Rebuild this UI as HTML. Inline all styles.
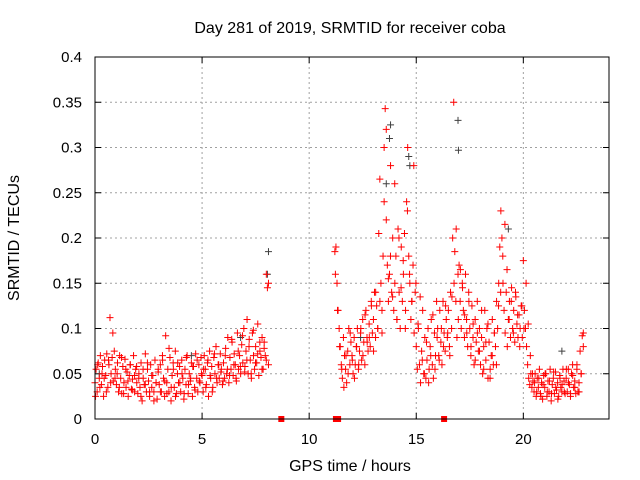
<!DOCTYPE html>
<html><head><meta charset="utf-8"><style>
body{margin:0;background:#fff}
svg{display:block;font-family:"Liberation Sans",sans-serif}
</style></head><body>
<svg id="chart" width="640" height="480">
<text x="350" y="33" text-anchor="middle" font-size="16">Day 281 of 2019, SRMTID for receiver coba</text>
<text x="350" y="471" text-anchor="middle" font-size="16">GPS time / hours</text>
<text x="19" y="238" text-anchor="middle" font-size="16" transform="rotate(-90 19 238)">SRMTID / TECUs</text>
<g id="grid"></g><g id="ticks"></g><g id="pts"></g>
<rect x="95" y="57" width="514" height="362" fill="none" stroke="#000" stroke-width="1"/>
</svg>
<script>
const xTicks=[0,5,10,15,20];
const yTicks=[0,0.05,0.1,0.15,0.2,0.25,0.3,0.35,0.4];
const yTickLabels=["0","0.05","0.1","0.15","0.2","0.25","0.3","0.35","0.4"];
const segA=[0,8.1];
const segB=[11.2,22.8];
const redA1=[40,55,30,62,45,70,38,58,25,65,48,72,35,60,112,50,68,42,75,55,38,62,30,70,45,28,58,40,66,35,52,25,48,60,33,44,70,30,55,40,28,50,35,62,20,45,38,72,30,55,42,25,60,35,48,30,65,40,22,52,38,60,30,70,45,25,92,40,55,30,68,20,48,62,35,75,28,50,40,58,30,65,45,22,55,38,70,28,50,42,62,25,58,35,72,45,30,60,40,68,48,30,70,55,38,62,25,75,45,58,35,68,50,80,40,60,45,72,55,38,62,45,78,50,90,40,68,55,85,48,72,60,42,95,55,70,50,82,62,100,58,75,110,50,88,65,45,95,70,55,80,62,105,48,75,68,90,55,85,70,160,145,60];
const redA2=[25,60,35,50,45,30,65,40,95,45,50,35,68,28,55,42,60,32,48,58,45,25,55,38,62,30,48,20,40,55,30,65,42,28,78,35,55,25,62,40,50,28,68,38,45,58,32,65,42,50,55,35,65,48,30,72,45,60,52,42,70,55,48,88,60,45,75,58,92,52,65,80,50,98,62,72,85,55,78,65,150];
const redB1=[185,190,150,120,100,80,60,45,90,70,55,40,75,100,60,85,70,50,90,60,80,100,55,75,95,65,110,85,60,120,90,75,105,80,130,95,110,140,90,125,100,205,265,150,120,180,300,343,220,170,130,160,280,140,200,120,150,180,110,210,140,100,190,130,160,205,120,240,300,180,150,110,130,170,95,140,80,55,100,60,40,75,120,50,90,45,65,100,55,80,110,60,45,95,70,130,100,70,120,85,60,130,95,75,110,90,120,80,140,100,200,350,185,130,90,160,170,130,100,150,120,90,160,110,80,140,100,70,125,90,60,110,85,130,75,100,60,90,50,80,120,65,100,45,85,55,70,110,60,95,80,130,100,150,190,230,200,150,120,95,140,80,110,130,90,145,100,120,85,135,105,90,115,100,125,90,175,120,100,80,60,45,38,50,35,42,30,50,25,45,35,55,28,40,22,48,35,50,25,42,30,55,20,38,45,28,52,32,40,25,48,35,30,55,42,28,45,30,55,38,25,50,60,35,42,28,55,30,40,75,50,92,95];
const redB2=[160,120,80,55,35,70,50,95,65,45,80,60,100,70,115,85,90,125,75,140,100,130,95,240,320,155,180,135,260,110,200,145,175,100,230,160,130,280,150,105,135,65,50,85,40,70,115,55,90,65,100,80,125,95,70,135,150,210,110,165,145,115,95,130,80,105,65,95,75,120,55,85,105,45,70,95,60,125,140,180,215,165,110,130,95,140,115,80,125,100,150,105,70,50,40,30,45,25,38,50,30,42,28,52,35,22,45,38,30,55,40,28,48,35,60,30,50,80];
const grayT=[8.1,8.05,13.8,13.75,14.7,14.65,16.95,16.97,19.3,13.6,0.2,4.5,6.8,12.4,21.8];
const grayV=[0.185,0.16,0.325,0.31,0.28,0.29,0.33,0.297,0.21,0.26,0.05,0.07,0.09,0.09,0.075];
const gapT=[8.7,11.25,11.35,16.3];

const X0=95,X1=609,Y0=419,Y1=57;
const xs=t=>X0+t/24*(X1-X0);
const ys=v=>Y0-v/0.4*(Y0-Y1);
const NS="http://www.w3.org/2000/svg";
const grid=document.getElementById('grid'),ticks=document.getElementById('ticks'),pts=document.getElementById('pts');
function mk(tag,attrs,parent){const e=document.createElementNS(NS,tag);for(const k in attrs)e.setAttribute(k,attrs[k]);parent.appendChild(e);return e;}
xTicks.forEach(t=>{const x=xs(t);
 if(t>0){const g=mk('line',{x1:x,x2:x,y1:Y1,y2:Y0,stroke:'#a0a0a0','stroke-dasharray':'2,3'},grid);
 
 }
 mk('line',{x1:x,x2:x,y1:Y0,y2:Y0-6,stroke:'#000'},ticks);
 mk('line',{x1:x,x2:x,y1:Y1,y2:Y1+6,stroke:'#000'},ticks);
 const l=mk('text',{x:x,y:Y0+25,'text-anchor':'middle','font-size':'15'},ticks);l.textContent=t;
 
 });
yTicks.forEach((v,i)=>{const y=ys(v);
 if(v>0&&v<0.4){const g=mk('line',{x1:X0,x2:X1,y1:y,y2:y,stroke:'#a0a0a0','stroke-dasharray':'2,3'},grid);
 
 }
 mk('line',{x1:X0,x2:X0+6,y1:y,y2:y,stroke:'#000'},ticks);
 mk('line',{x1:X1,x2:X1-6,y1:y,y2:y,stroke:'#000'},ticks);
 const l=mk('text',{x:X0-13,y:y+5,'text-anchor':'end','font-size':'15'},ticks);l.textContent=yTickLabels[i];
 
 });
function plus(t,v,col,name){const x=xs(t),y=ys(v);
 const p=mk('path',{d:`M${x-3.5},${y}h7M${x},${y-3.5}v7`,stroke:col,'stroke-width':'1',fill:'none'},pts);
 
 }
grayT.forEach((t,i)=>plus(t,grayV[i],'#404040','gray-point'));
function seg(arr,s,e,off){const n=arr.length;arr.forEach((v,i)=>plus(s+off+i*(e-s-off)/(n-1),v/1000,'#ff0000','red-point'));}
seg(redA1,segA[0],segA[1],0);seg(redA2,segA[0],segA[1],0.025);
seg(redB1,segB[0],segB[1],0);seg(redB2,segB[0],segB[1],0.025);
gapT.forEach(t=>{const r=mk('rect',{x:xs(t)-3,y:Y0-3,width:6,height:6,fill:'#ff0000'},pts);
 
 });
</script>
</body></html>
